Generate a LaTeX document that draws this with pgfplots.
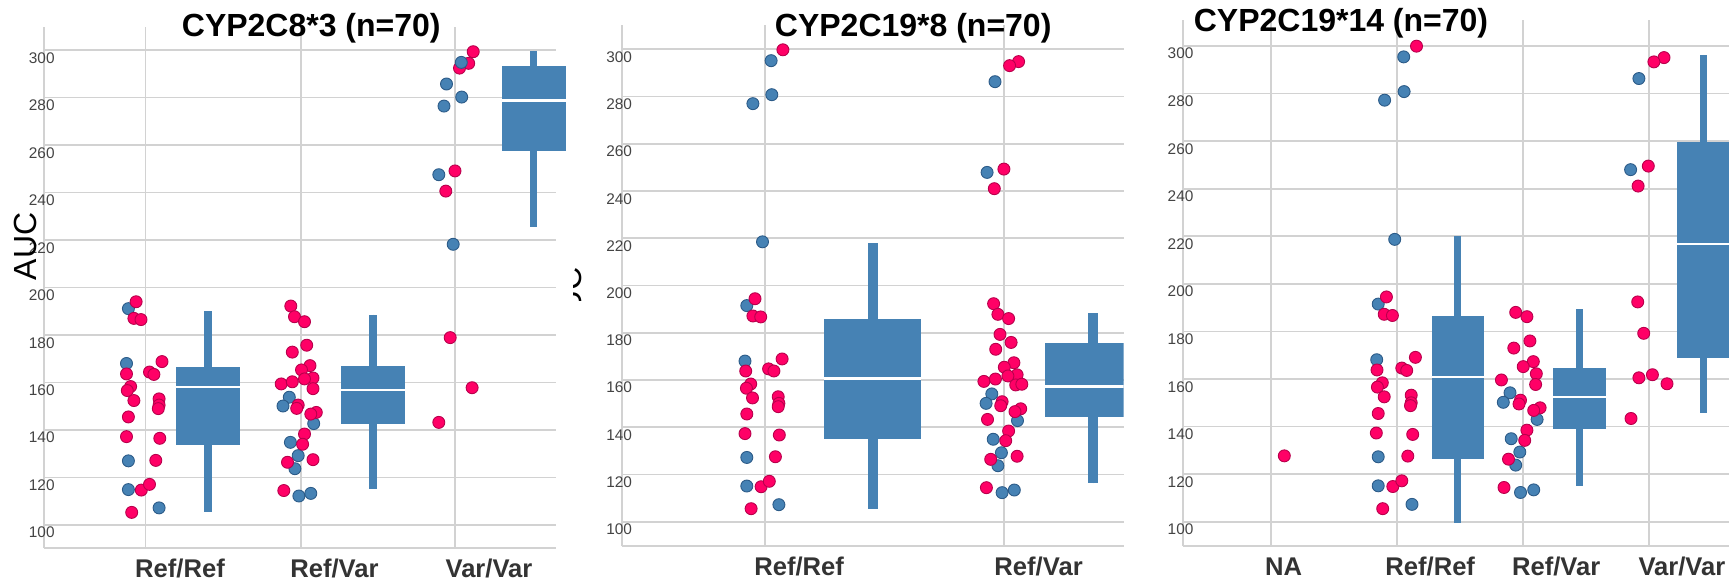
\documentclass[border=0pt]{standalone}
\usepackage{fontspec}
\setmainfont{Liberation Sans}
\usepackage{pgfplots}
\pgfplotsset{compat=1.18}
\usepgfplotslibrary{statistics}
\definecolor{ptred}{HTML}{FF0066}
\definecolor{ptrededge}{HTML}{B8004C}
\definecolor{steel}{HTML}{4682B4}
\definecolor{steeledge}{HTML}{2C5B88}
\definecolor{gridc}{HTML}{D2D2D2}
\definecolor{tickc}{HTML}{444444}
\definecolor{catc}{HTML}{333333}
\pgfplotsset{
  panel/.style={
    scale only axis, anchor=south west,
    axis x line*=bottom, axis y line*=left,
    axis line style={draw=gridc, line width=0.9pt},
    major tick length=0pt, tick style={draw=none},
    ymajorgrids, grid style={draw=gridc, line width=0.9pt},
    ytick={100,120,...,300},
    /pgf/number format/assume math mode=true,
    yticklabel style={font=\fontsize{7.7}{8}\selectfont, text=tickc, anchor=base east, inner sep=0pt, xshift=5.3pt, yshift=-6.5pt},
    xticklabel style={font=\fontsize{12.8}{13}\selectfont\bfseries, text=catc, anchor=base, inner sep=0pt, yshift=-14.5pt},
    extra x tick style={grid=major, xticklabel={}},
  },
  redpt/.style={only marks, mark=*, mark size=3.0pt, mark options={fill=ptred, draw=ptrededge, line width=0.45pt}},
  bluept/.style={only marks, mark=*, mark size=3.0pt, mark options={fill=steel, draw=steeledge, line width=0.45pt}},
  bx/.style={fill=steel, draw=none, mark=none,
    boxplot/draw direction=y,
    boxplot/every box/.style={draw=none, fill=steel},
    boxplot/every whisker/.style={draw=steel, line width=#1},
    boxplot/every median/.style={draw=white, line width=1.2pt}},
}
\begin{document}
\begin{tikzpicture}
\path[use as bounding box] (0,0) rectangle (864.5pt,-290pt);
% ---------------- Panel 1 ----------------
\begin{axis}[panel, at={(22.2pt,-274pt)}, width=255.8pt, height=260.5pt,
  xmin=44.4, xmax=556, ymin=90.3, ymax=309.7, clip=false,
  xtick={180,334.4,489}, xticklabels={Ref/Ref,Ref/Var,Var/Var},
  extra x ticks={145.4,300.8,455.1}]
\addplot[bluept] coordinates {(128.4,191.1) (126.5,168.0) (128.4,127.0) (128.4,114.9) (159.1,107.2)
 (289.3,153.8) (283.0,150.1) (313.7,142.7) (290.4,134.8) (298.2,129.2) (294.9,123.7) (298.9,112.2) (310.8,113.3)
 (446.5,285.7) (461.7,280.2) (444.0,276.4) (438.8,247.5) (453.2,218.2)};
\addplot[redpt] coordinates {(136.1,194.0) (133.9,187.0) (141.0,186.5) (162.0,168.8) (126.5,163.6) (149.5,164.4) (153.9,163.4) (130.6,158.3) (127.3,156.6) (133.9,152.4) (159.1,153.1) (159.1,150.5) (158.3,149.0) (128.4,145.5) (126.5,137.2) (159.8,136.5) (155.8,127.2) (141.3,114.7) (149.5,117.1) (131.7,105.3)
 (290.8,192.2) (294.5,187.7) (304.5,185.6) (306.7,175.7) (292.3,172.8) (310.0,167.1) (301.5,165.3) (313.0,161.9) (304.5,161.5) (281.2,159.4) (292.3,160.3) (313.0,157.4) (298.2,150.5) (296.7,149.1) (316.3,147.4) (310.8,146.7) (304.5,138.3) (302.6,134.0) (287.5,126.4) (313.0,127.5) (283.8,114.5)
 (450.2,178.9) (472.1,157.8) (438.8,143.2) (473.2,299.3) (468.7,294.4) (459.5,292.4) (455.0,249.1) (445.8,240.6)};
\addplot[bluept] coordinates {(461.3,294.8)};
\addplot[bx=3.7pt, boxplot prepared={draw position=207.9, box extend=64, whisker extend=0,
  lower whisker=105.6, lower quartile=133.8, median=158, upper quartile=166.4, upper whisker=190.1}] coordinates {};
\addplot[bx=3.7pt, boxplot prepared={draw position=373.1, box extend=64, whisker extend=0,
  lower whisker=115.2, lower quartile=142.5, median=156.8, upper quartile=166.8, upper whisker=188.6}] coordinates {};
\addplot[bx=3.7pt, boxplot prepared={draw position=533.6, box extend=64, whisker extend=0,
  lower whisker=225.6, lower quartile=257.6, median=278.7, upper quartile=293.3, upper whisker=299.6}] coordinates {};
\end{axis}
% ---------------- Panel 2 ----------------
\begin{axis}[panel, at={(310.9pt,-273pt)}, width=250.9pt, height=260.5pt,
  xmin=621.8, xmax=1123.6, ymin=89.7, ymax=310.3,
  xtick={799.1,1038.6}, xticklabels={Ref/Ref,Ref/Var},
  extra x ticks={764.6,1004.3}]
\addplot[bluept] coordinates {(746.8,191.5) (745.0,168.0) (746.8,127.2) (746.8,115.1) (778.9,107.2) (771.1,295.2) (771.8,280.8) (752.9,277.0) (762.5,218.5)
 (991.8,154.1) (986.1,150.1) (1017.5,142.8) (993.2,134.9) (1001.4,129.2) (997.9,123.7) (1002.1,112.3) (1014.3,113.4) (995.0,286.3) (987.1,247.9)};
\addplot[redpt] coordinates {(755.0,194.4) (752.9,187.1) (760.7,186.7) (782.1,168.9) (745.7,163.8) (768.6,164.7) (773.9,163.8) (750.7,158.3) (746.4,156.5) (752.5,152.4) (778.2,152.9) (778.9,150.1) (778.2,148.7) (746.8,145.6) (745.0,137.3) (779.3,136.7) (775.4,127.5) (761.1,114.8) (769.3,117.1) (751.1,105.5) (782.9,299.8)
 (993.6,192.3) (997.9,187.8) (1008.6,186.0) (1000.0,179.3) (1011.1,175.9) (995.7,173.0) (1013.9,167.3) (1004.3,165.4) (1017.1,162.2) (1007.9,161.7) (983.9,159.4) (995.4,160.4) (1015.7,157.9) (1021.8,158.2) (1002.1,150.8) (1000.7,149.1) (1020.7,147.8) (1015.0,146.6) (987.5,143.3) (1008.6,138.4) (1005.7,134.3) (990.7,126.4) (1017.1,127.7) (986.4,114.4) (1018.6,294.8) (1009.6,293.1) (1003.9,249.3) (994.3,241.0)};
\addplot[bx=5pt, boxplot prepared={draw position=872.5, box extend=97, whisker extend=0,
  lower whisker=105.5, lower quartile=135.2, median=160.7, upper quartile=185.7, upper whisker=217.9}] coordinates {};
\addplot[bx=5pt, boxplot prepared={draw position=1093.4, box extend=97, whisker extend=0,
  lower whisker=116.2, lower quartile=144.2, median=157.2, upper quartile=175.7, upper whisker=188.2}] coordinates {};
\end{axis}
% ---------------- Panel 3 ----------------
\begin{axis}[panel, at={(591.6pt,-273pt)}, width=278.4pt, height=263pt,
  xmin=1183.2, xmax=1740, ymin=89.8, ymax=310.9,
  xtick={1283.7,1430.2,1556.2,1681.9}, xticklabels={NA,Ref/Ref,Ref/Var,Var/Var},
  extra x ticks={1270.7,1397,1523.2,1649}]
\addplot[bluept] coordinates {(1378.2,191.5) (1376.7,168.1) (1378.2,127.3) (1378.2,115.1) (1412.0,107.3) (1403.7,295.4) (1404.1,280.8) (1384.6,277.2) (1394.7,218.7)
 (1510.0,154.2) (1503.3,150.2) (1537.1,143.0) (1511.2,134.9) (1519.8,129.3) (1515.7,123.8) (1520.5,112.3) (1533.7,113.4)
 (1638.9,286.3) (1630.6,248.0)};
\addplot[redpt] coordinates {(1284.3,127.7)
 (1386.4,194.5) (1384.2,187.2) (1392.4,186.7) (1415.4,169.1) (1377.0,163.8) (1401.8,164.6) (1406.7,163.6) (1382.3,158.4) (1377.4,156.6) (1384.2,152.5) (1411.2,153.2) (1411.2,150.0) (1410.5,148.8) (1378.2,145.5) (1376.3,137.3) (1412.7,136.7) (1407.8,127.6) (1392.8,114.8) (1401.8,117.2) (1382.7,105.5) (1416.5,299.9)
 (1515.7,188.0) (1526.9,186.2) (1529.9,176.0) (1513.8,173.0) (1533.3,167.3) (1523.2,165.2) (1536.3,162.2) (1535.6,157.7) (1501.4,159.6) (1520.5,151.1) (1519.0,149.5) (1540.1,147.9) (1533.7,146.8) (1526.9,138.5) (1524.7,134.2) (1508.5,126.3) (1504.0,114.4)
 (1637.7,192.4) (1643.7,179.2) (1638.9,160.5) (1652.4,161.8) (1667.0,158.0) (1631.0,143.4) (1664.0,295.1) (1653.9,293.3) (1648.3,249.5) (1638.1,241.1)};
\addplot[bx=3.5pt, boxplot prepared={draw position=1457.8, box extend=52.6, whisker extend=0,
  lower whisker=99.6, lower quartile=126.5, median=160.9, upper quartile=186.5, upper whisker=220.1}] coordinates {};
\addplot[bx=3.5pt, boxplot prepared={draw position=1579.5, box extend=52.6, whisker extend=0,
  lower whisker=115.1, lower quartile=139.1, median=152.5, upper quartile=164.5, upper whisker=189.3}] coordinates {};
\addplot[bx=3.5pt, boxplot prepared={draw position=1703.7, box extend=52.6, whisker extend=0,
  lower whisker=145.8, lower quartile=168.9, median=216.7, upper quartile=259.6, upper whisker=296.2}] coordinates {};
\end{axis}
% ---------------- Titles and labels ----------------
\node[anchor=base, inner sep=0pt, font=\fontsize{16}{18}\selectfont\bfseries] at (155.65pt,-18.25pt) {CYP2C8*3 (n=70)};
\node[anchor=base, inner sep=0pt, font=\fontsize{16}{18}\selectfont\bfseries] at (456.6pt,-18pt) {CYP2C19*8 (n=70)};
\node[anchor=base, inner sep=0pt, font=\fontsize{16}{18}\selectfont\bfseries] at (670.5pt,-15.75pt) {CYP2C19*14 (n=70)};
\node[rotate=90, anchor=base, inner sep=0pt, font=\fontsize{16}{18}\selectfont] at (18pt,-123.25pt) {AUC};
\begin{scope}
\clip (286.5pt,-132pt) rectangle (291pt,-150pt);
\node[rotate=90, anchor=base, inner sep=0pt, font=\fontsize{16}{18}\selectfont] at (290.5pt,-150.75pt) {AUC};
\end{scope}
\end{tikzpicture}
\end{document}
